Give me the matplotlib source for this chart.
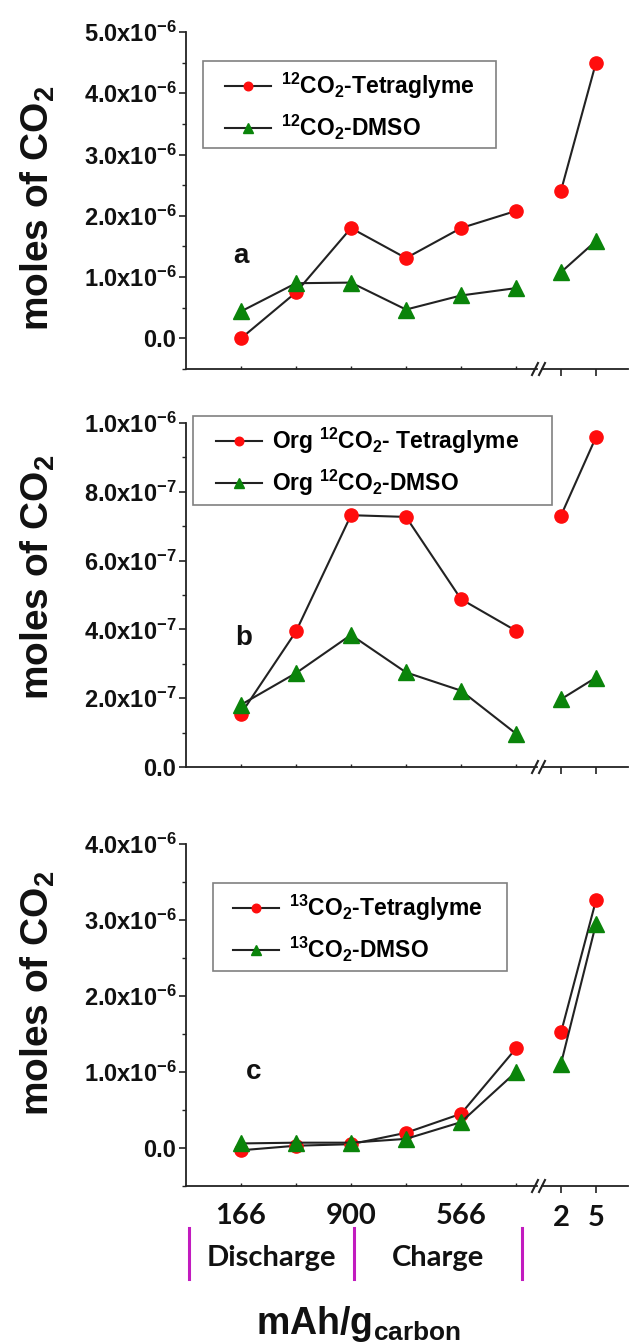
import numpy as np
import matplotlib
matplotlib.use("Agg")
import matplotlib.pyplot as plt
from matplotlib.ticker import FuncFormatter, MultipleLocator
from matplotlib.lines import Line2D
from matplotlib.patches import Rectangle

# x categories: six steps before the axis break, two after it
pre_labels = ['166', '', '900', '', '566', '']
post_labels = ['2', '5']
phase_names = ['Discharge', 'Charge']
phase_bounds = [0.05, 3.05, 6.1]

# panel a, 12CO2 (mol, x1e-6)
tetra_a = [0.00, 0.75, 1.80, 1.31, 1.80, 2.08]
tetra_a_post = [2.41, 4.50]
dmso_a = [0.44, 0.90, 0.91, 0.47, 0.70, 0.82]
dmso_a_post = [1.08, 1.59]

# panel b, organic 12CO2 (mol, x1e-7)
tetra_b = [1.55, 3.94, 7.32, 7.27, 4.88, 3.96]
tetra_b_post = [7.31, 9.59]
dmso_b = [1.81, 2.73, 3.84, 2.75, 2.22, 0.97]
dmso_b_post = [1.97, 2.60]

# panel c, 13CO2 (mol, x1e-6)
tetra_c = [-0.03, 0.03, 0.05, 0.20, 0.45, 1.31]
tetra_c_post = [1.52, 3.26]
dmso_c = [0.06, 0.07, 0.07, 0.12, 0.34, 1.00]
dmso_c_post = [1.11, 2.95]

plt.rcParams['font.family'] = ['Liberation Sans', 'DejaVu Sans']
plt.rcParams['font.weight'] = 'bold'
plt.rcParams['mathtext.default'] = 'regular'

W, H = 633, 1344
fig = plt.figure(figsize=(W / 100, H / 100), dpi=100)


def rect(x0, y0, x1, y1):
    return [x0 / W, 1 - y1 / H, (x1 - x0) / W, (y1 - y0) / H]


def sci(v, pos):
    if abs(v) < 1e-12:
        return '0.0'
    e = int(np.floor(np.log10(abs(v)) + 1e-9))
    return '%.1fx10$^{%d}$' % (v / 10 ** e, e)


RED = '#ff0d0d'
GREEN = '#0a840a'
LINE = '#222222'

panels = [
    dict(tag='a', scale=1e-6, ylim=(-0.5e-6, 5.0e-6), major=1e-6, minor=0.5e-6,
         tetra=tetra_a, tetra_post=tetra_a_post, dmso=dmso_a, dmso_post=dmso_a_post,
         labels=[r'$^{12}$CO$_2$-Tetraglyme', r'$^{12}$CO$_2$-DMSO'],
         top=32, bottom=369, box=(203, 61, 496, 148), leg=(225, 71), ylab=208,
         letter=(241, 256)),
    dict(tag='b', scale=1e-7, ylim=(0, 1.0e-6), major=2e-7, minor=1e-7,
         tetra=tetra_b, tetra_post=tetra_b_post, dmso=dmso_b, dmso_post=dmso_b_post,
         labels=[r'Org $^{12}$CO$_2$- Tetraglyme', r'Org $^{12}$CO$_2$-DMSO'],
         top=423, bottom=767, box=(193, 416, 552, 505), leg=(216, 426), ylab=577,
         letter=(244, 638)),
    dict(tag='c', scale=1e-6, ylim=(-0.5e-6, 4.0e-6), major=1e-6, minor=0.5e-6,
         tetra=tetra_c, tetra_post=tetra_c_post, dmso=dmso_c, dmso_post=dmso_c_post,
         labels=[r'$^{13}$CO$_2$-Tetraglyme', r'$^{13}$CO$_2$-DMSO'],
         top=844, bottom=1186, box=(213, 883, 507, 971), leg=(233, 893), ylab=993,
         letter=(254, 1072)),
]

x_pre = np.arange(1, len(pre_labels) + 1)
x_post = np.arange(1, len(post_labels) + 1)

for i, p in enumerate(panels):
    ax = fig.add_axes(rect(186, p['top'], 537, p['bottom']))
    ax2 = fig.add_axes(rect(542, p['top'], 628, p['bottom']))
    ax.set_xlim(0, (537 - 186) / 55)
    ax2.set_xlim(1 - 19 / 35, 2 + 32 / 35)
    for a in (ax, ax2):
        a.set_ylim(*p['ylim'])
        a.spines['top'].set_visible(False)
        a.spines['right'].set_visible(False)
        a.spines['bottom'].set_linewidth(1.3)
        a.spines['bottom'].set_color(LINE)
        a.patch.set_alpha(0)
    ax2.spines['left'].set_visible(False)
    ax.spines['left'].set_linewidth(1.3)
    ax.spines['left'].set_color(LINE)

    s = p['scale']
    ax.plot(x_pre, np.array(p['tetra']) * s, '-o', color=LINE, lw=1.5, ms=9.5,
            mfc=RED, mec=RED, label=p['labels'][0], zorder=3)
    ax.plot(x_pre, np.array(p['dmso']) * s, '-^', color=LINE, lw=1.5, ms=11,
            mfc=GREEN, mec=GREEN, label=p['labels'][1], zorder=4)
    ax2.plot(x_post, np.array(p['tetra_post']) * s, '-o', color=LINE, lw=1.5, ms=9.5,
             mfc=RED, mec=RED, zorder=3, clip_on=False)
    ax2.plot(x_post, np.array(p['dmso_post']) * s, '-^', color=LINE, lw=1.5, ms=11,
             mfc=GREEN, mec=GREEN, zorder=4, clip_on=False)

    ax.yaxis.set_major_locator(MultipleLocator(p['major']))
    ax.yaxis.set_minor_locator(MultipleLocator(p['minor']))
    ax.yaxis.set_major_formatter(FuncFormatter(sci))
    ax.tick_params(axis='y', which='major', direction='out', length=5, width=1.2,
                   labelsize=17, pad=2, colors=LINE, labelcolor='#111111')
    ax.tick_params(axis='y', which='minor', direction='out', length=3, width=1.0,
                   colors=LINE)
    ax2.tick_params(axis='y', which='both', left=False, labelleft=False)

    ax.set_xticks(x_pre)
    ax2.set_xticks(x_post)
    ax.tick_params(axis='x', direction='in', length=2, width=1.0, colors=LINE, pad=12.5)
    ax2.tick_params(axis='x', direction='out', length=5, width=1.2, colors=LINE, pad=8.5)
    if i == 2:
        ax.set_xticklabels(pre_labels, fontfamily='Lato', fontweight='bold',
                           fontsize=21, color='#111111')
        ax2.set_xticklabels(post_labels, fontfamily='Lato', fontweight='bold',
                            fontsize=21, color='#111111')
    else:
        ax.set_xticklabels([])
        ax2.set_xticklabels([])

    # break marks on the x axis
    yb = p['bottom']
    for xb in (535, 542):
        fig.add_artist(Line2D([(xb - 3) / W, (xb + 3) / W],
                              [1 - (yb + 6) / H, 1 - (yb - 6) / H],
                              color=LINE, lw=1.5, transform=fig.transFigure))

    # legend frame drawn separately, content placed inside it
    bx0, by0, bx1, by1 = p['box']
    ax.add_patch(Rectangle((bx0 / W, 1 - by1 / H), (bx1 - bx0) / W, (by1 - by0) / H,
                           transform=fig.transFigure, facecolor='white',
                           edgecolor='#808080', lw=1.2, zorder=5, clip_on=False))
    leg = ax.legend(loc='upper left', bbox_to_anchor=(p['leg'][0] / W, 1 - p['leg'][1] / H),
                    bbox_transform=fig.transFigure, borderaxespad=0, borderpad=0,
                    fontsize=16.5, frameon=False, handlelength=2.0, handletextpad=0.45,
                    markerscale=0.65, labelspacing=0.5)
    leg.set_zorder(6)

    fig.text(38 / W, 1 - p['ylab'] / H, r'moles of CO$_2$', rotation=90,
             ha='center', va='center', fontsize=28, fontweight='bold', color='#111111')
    fig.text(p['letter'][0] / W, 1 - p['letter'][1] / H, p['tag'], ha='center',
             va='center', fontsize=20, fontweight='bold', color='#111111')

    if i == 2:
        tr = ax.get_xaxis_transform()
        for xb in phase_bounds:
            ax.plot([xb, xb], [-0.123, -0.272], color='#c21bbf', lw=2.2,
                    transform=tr, clip_on=False)
        for k, name in enumerate(phase_names):
            xm = (phase_bounds[k] + phase_bounds[k + 1]) / 2
            ax.text(xm, -0.21, name, transform=tr, ha='center', va='center',
                    fontfamily='Lato', fontweight='bold', fontsize=21, color='#111111')

fig.text(358 / W, 10 / H, r'mAh/g$_{carbon}$', ha='center', va='baseline',
         fontsize=27, fontweight='bold', color='#111111')

fig.savefig('out.png', dpi=100, facecolor='white')
